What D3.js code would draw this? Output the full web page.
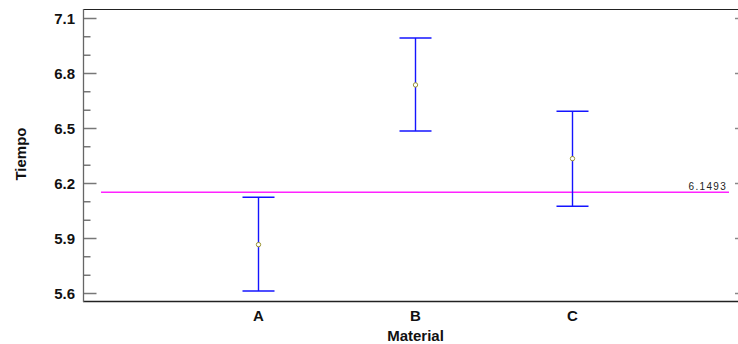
<!DOCTYPE html>
<html>
<head>
<meta charset="utf-8">
<script src="https://d3js.org/d3.v7.min.js"></script>
<style>
  body { margin: 0; background: #fff; }
  text { font-family: "Liberation Sans", Arial, sans-serif; }
</style>
</head>
<body>
<script>
// data
var materials = ["A", "B", "C"];
var means = [5.864, 6.735, 6.333];
var lows = [5.611, 6.484, 6.073];
var highs = [6.122, 6.991, 6.591];
var refValue = 6.1493;
var yTicks = [5.6, 5.9, 6.2, 6.5, 6.8, 7.1];

var width = 738, height = 344;
var plotLeft = 83, plotTop = 9, plotBottom = 301, plotRight = 738;

var svg = d3.select("body").append("svg")
    .attr("width", width)
    .attr("height", height);

var y = d3.scaleLinear().domain([5.5564, 7.1491]).range([plotBottom, plotTop]);
var x = d3.scalePoint().domain(materials).range([258.5, 572.5]);

// frame: top and bottom lines
svg.append("line").attr("x1", plotLeft).attr("x2", plotRight).attr("y1", plotTop + 0.5).attr("y2", plotTop + 0.5)
   .attr("stroke", "#222").attr("stroke-width", 1.2);
svg.append("line").attr("x1", plotLeft).attr("x2", plotRight).attr("y1", plotBottom + 0.5).attr("y2", plotBottom + 0.5)
   .attr("stroke", "#222").attr("stroke-width", 1.6);

// left axis
var minorTicks = d3.range(56, 72).map(function(d){ return d / 10; });
var yAxis = d3.axisRight(y).tickValues(yTicks).tickSize(13).tickFormat("");
var yMinor = d3.axisRight(y).tickValues(minorTicks).tickSize(7).tickFormat("");

var gMinor = svg.append("g").attr("transform", "translate(" + (plotLeft + 0.5) + ",0)").call(yMinor);
gMinor.select(".domain").remove();
gMinor.selectAll("line").attr("stroke", "#333").attr("stroke-width", 1);

var gMajor = svg.append("g").attr("transform", "translate(" + (plotLeft + 0.5) + ",0)").call(yAxis);
gMajor.select(".domain").remove();
gMajor.selectAll("line").attr("stroke", "#777").attr("stroke-width", 1.5);

svg.append("line").attr("x1", plotLeft + 0.5).attr("x2", plotLeft + 0.5).attr("y1", plotTop).attr("y2", plotBottom + 1)
   .attr("stroke", "#666").attr("stroke-width", 1.3);

// tick labels
svg.selectAll(".ylab").data(yTicks).enter().append("text")
   .attr("class", "ylab")
   .attr("x", 75)
   .attr("y", function(d){ return y(d) + 5.5; })
   .attr("text-anchor", "end")
   .attr("font-size", 15)
   .attr("font-weight", "bold")
   .attr("fill", "#111")
   .text(function(d){ return d3.format(".1f")(d); });

// little ticks on right edge
svg.selectAll(".rtick").data(yTicks).enter().append("line")
   .attr("class", "rtick")
   .attr("x1", 735).attr("x2", 738)
   .attr("y1", function(d){ return y(d) + 0.5; })
   .attr("y2", function(d){ return y(d) + 0.5; })
   .attr("stroke", "#888").attr("stroke-width", 1.5);

// axis titles
svg.append("text")
   .attr("transform", "translate(26,154) rotate(-90)")
   .attr("text-anchor", "middle")
   .attr("font-size", 15)
   .attr("font-weight", "bold")
   .attr("fill", "#111")
   .text("Tiempo");

svg.selectAll(".xlab").data(materials).enter().append("text")
   .attr("class", "xlab")
   .attr("x", function(d){ return x(d); })
   .attr("y", 321)
   .attr("text-anchor", "middle")
   .attr("font-size", 15)
   .attr("font-weight", "bold")
   .attr("fill", "#111")
   .text(function(d){ return d; });

svg.append("text")
   .attr("x", 415.5)
   .attr("y", 341)
   .attr("text-anchor", "middle")
   .attr("font-size", 15)
   .attr("font-weight", "bold")
   .attr("fill", "#111")
   .text("Material");

// reference line
svg.append("line")
   .attr("x1", 101).attr("x2", 729)
   .attr("y1", y(refValue)).attr("y2", y(refValue))
   .attr("stroke", "#ff22ff").attr("stroke-width", 1.5);

svg.append("text")
   .attr("x", 727)
   .attr("y", y(refValue) - 2)
   .attr("text-anchor", "end")
   .attr("font-family", "DejaVu Sans Mono, monospace")
   .attr("font-size", 10)
   .attr("letter-spacing", 1.3)
   .attr("fill", "#222")
   .text(d3.format(".4f")(refValue));

// error bars
var capHalf = 16;
var bars = svg.selectAll(".bar").data(materials).enter().append("g").attr("class", "bar");

bars.append("line")
   .attr("x1", function(d){ return x(d); }).attr("x2", function(d){ return x(d); })
   .attr("y1", function(d, i){ return y(highs[i]); })
   .attr("y2", function(d, i){ return y(lows[i]); })
   .attr("stroke", "#1414ff").attr("stroke-width", 1.4);

bars.append("line")
   .attr("x1", function(d){ return x(d) - capHalf; }).attr("x2", function(d){ return x(d) + capHalf; })
   .attr("y1", function(d, i){ return y(highs[i]); })
   .attr("y2", function(d, i){ return y(highs[i]); })
   .attr("stroke", "#1414ff").attr("stroke-width", 1.4);

bars.append("line")
   .attr("x1", function(d){ return x(d) - capHalf; }).attr("x2", function(d){ return x(d) + capHalf; })
   .attr("y1", function(d, i){ return y(lows[i]); })
   .attr("y2", function(d, i){ return y(lows[i]); })
   .attr("stroke", "#1414ff").attr("stroke-width", 1.4);

bars.append("circle")
   .attr("cx", function(d){ return x(d); })
   .attr("cy", function(d, i){ return y(means[i]); })
   .attr("r", 2.2)
   .attr("fill", "#fff")
   .attr("stroke", "#9a9430")
   .attr("stroke-width", 1);
</script>
</body>
</html>
